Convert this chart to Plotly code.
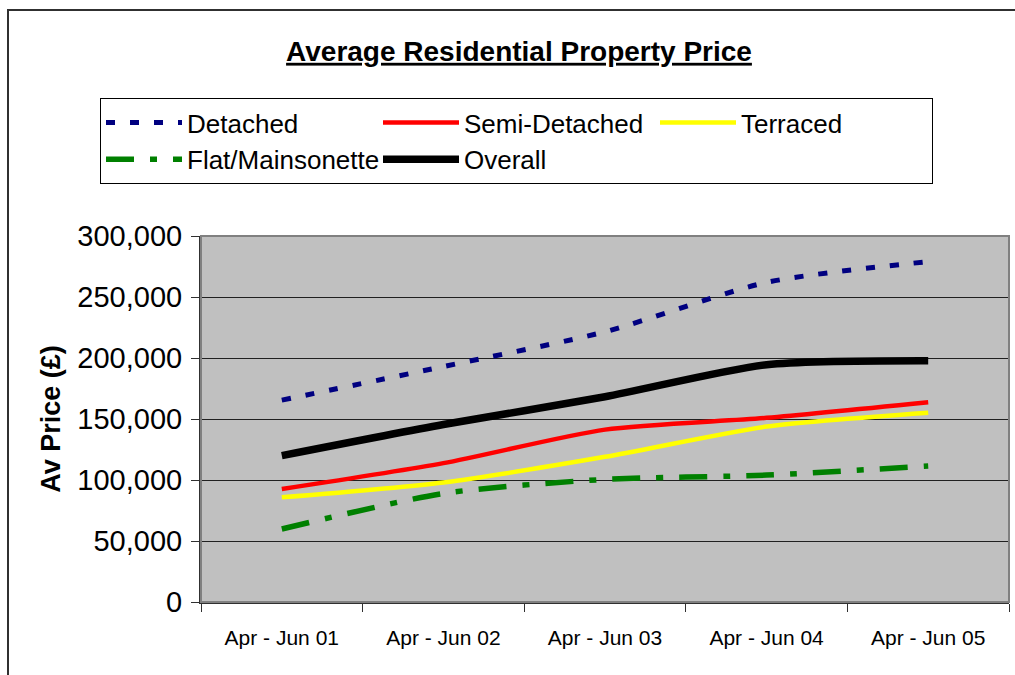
import plotly.graph_objects as go

categories = ["Apr - Jun 01", "Apr - Jun 02", "Apr - Jun 03", "Apr - Jun 04", "Apr - Jun 05"]
detached = [165500, 193000, 221500, 262000, 279000]
semi_detached = [92600, 113800, 141300, 151000, 163800]
terraced = [85800, 98000, 119000, 143800, 155200]
flat_maisonette = [59800, 89000, 100500, 104000, 111500]
overall = [120000, 145500, 168200, 194500, 197800]
y_ticks = [0, 50000, 100000, 150000, 200000, 250000, 300000]

W, H = 1015, 675
L, R, T, B = 201, 1009, 236, 602   # plot area in pixels
pw, ph = R - L, B - T

def px(x):
    return (x - L) / pw

def py(y):
    return (B - y) / ph

FONT = "Liberation Sans, Arial, sans-serif"

series = [
    ("Detached", detached, dict(color="#000080", width=5, dash="9px,15px")),
    ("Semi-Detached", semi_detached, dict(color="#FF0000", width=4.5)),
    ("Terraced", terraced, dict(color="#FFFF00", width=4.5)),
    ("Flat/Mainsonette", flat_maisonette, dict(color="#008000", width=5.5, dash="28px,16px,7px,16px")),
    ("Overall", overall, dict(color="#000000", width=7.5)),
]

fig = go.Figure()
for name, vals, line in series:
    fig.add_trace(go.Scatter(
        x=categories, y=vals, name=name, mode="lines",
        line=dict(shape="spline", smoothing=0.7, **line),
    ))

fig.update_layout(
    width=W, height=H,
    margin=dict(l=L, r=W - R, t=T, b=H - B, pad=0),
    paper_bgcolor="white",
    plot_bgcolor="#C0C0C0",
    font=dict(family=FONT, color="black"),
    title=dict(
        text="<b><u>Average Residential Property Price</u></b>",
        font=dict(size=28, family=FONT, color="black"),
        x=px(519), xanchor="center", xref="paper",
        y=1 - 51 / H, yanchor="middle", yref="container",
    ),
    legend=dict(
        orientation="h",
        x=px(100), xanchor="left",
        y=py(98), yanchor="top",
        bgcolor="white", bordercolor="black", borderwidth=1,
        font=dict(size=26, family=FONT, color="black"),
        entrywidth=186, entrywidthmode="pixels",
        itemwidth=76,
        traceorder="normal",
    ),
    showlegend=True,
)

fig.update_xaxes(
    type="category", range=[-0.5, 4.5],
    tickson="boundaries", ticks="outside", ticklen=8, tickcolor="#303030", tickwidth=1,
    showline=True, linecolor="#303030", linewidth=2,
    showgrid=False, zeroline=False,
    tickfont=dict(size=21, family=FONT, color="black"),
    ticklabelstandoff=16,
)
fig.update_yaxes(
    range=[0, 300000], tickvals=y_ticks, tickformat=",d",
    ticks="outside", ticklen=8, tickcolor="#303030", tickwidth=1,
    showline=True, linecolor="#303030", linewidth=2,
    showgrid=True, gridcolor="#202020", gridwidth=1, zeroline=False,
    tickfont=dict(size=29, family=FONT, color="black"),
    ticklabelstandoff=3,
    title=dict(text="<b>Av Price (£)</b>", font=dict(size=27, family=FONT, color="black"), standoff=9),
)

# plot area border (top/right grey)
fig.add_shape(type="rect", xref="paper", yref="paper", x0=0, x1=1, y0=0, y1=1,
              line=dict(color="#808080", width=2), layer="above")
# outer chart frame
fig.add_shape(type="rect", xref="paper", yref="paper",
              x0=px(8), x1=px(1040), y0=py(700), y1=py(10),
              line=dict(color="#303030", width=2), layer="above")

fig.write_html("out.html")
